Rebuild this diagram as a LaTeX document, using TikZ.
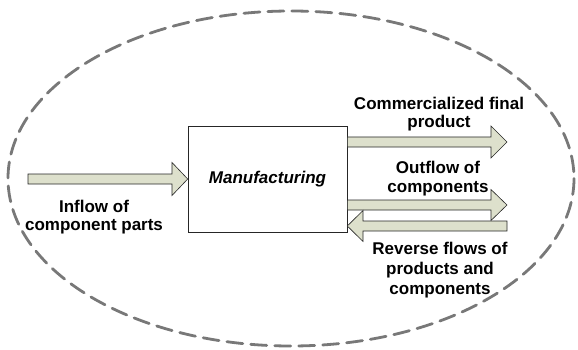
\documentclass[tikz,border=0pt]{standalone}
\usepackage{fontspec}
\setmainfont{Liberation Sans}
\begin{document}
\begin{tikzpicture}[x=1pt,y=-1pt,
  lbl/.style={font=\fontsize{17}{18.5}\selectfont\bfseries, align=center, inner sep=0pt},
  blk/.style={fill=arrowfill, draw=black!85, line width=0.6pt, line join=miter},
  boundary/.style={color={rgb,255:red,120;green,120;blue,120}, line width=2.8pt, dash pattern=on 16pt off 8pt, line cap=round}
]
\definecolor{arrowfill}{RGB}{221,224,204}
\useasboundingbox (0,0) rectangle (578,350);
% boundary ellipse
\draw[boundary] (291,178.5) ellipse [x radius=283, y radius=167.5];
% manufacturing box
\node[draw=black!85, line width=0.6pt, minimum width=159pt, minimum height=106pt, inner sep=0pt,
  font=\fontsize{17}{18.5}\selectfont\bfseries\itshape] (mfg) at (267.5,179) {Manufacturing};
% inflow arrow
\coordinate (inS) at (28,179);
\draw[blk] (inS) ++(0,-5) -- (172,174) -- (172,162.5) -- (mfg.west) -- (172,195.5) -- (172,184) -- (28,184) -- cycle;
% commercialized final product
\draw[blk] (mfg.east |- 0,137) -- (491,137) -- (491,126) -- (507,142) -- (491,158) -- (491,147) -- (mfg.east |- 0,147) -- cycle;
% outflow of components
\draw[blk] (mfg.east |- 0,200) -- (491,200) -- (491,189.5) -- (507,205) -- (491,220.5) -- (491,210) -- (mfg.east |- 0,210) -- cycle;
% reverse flows
\draw[blk] (507,221) -- (363,221) -- (363,210.5) -- (mfg.east |- 0,226) -- (363,241.5) -- (363,231) -- (507,231) -- cycle;
% labels
\node[lbl] (lin) at (94,217) {Inflow of\\component parts};
\node[lbl] (lcf) at (439,114) {Commercialized final\\product};
\node[lbl] (lout) at (438,178.5) {Outflow of\\components};
\node[lbl, font=\fontsize{17}{20}\selectfont\bfseries] (lrev) at (440,270) {Reverse flows of\\products and\\components};
\end{tikzpicture}
\end{document}
